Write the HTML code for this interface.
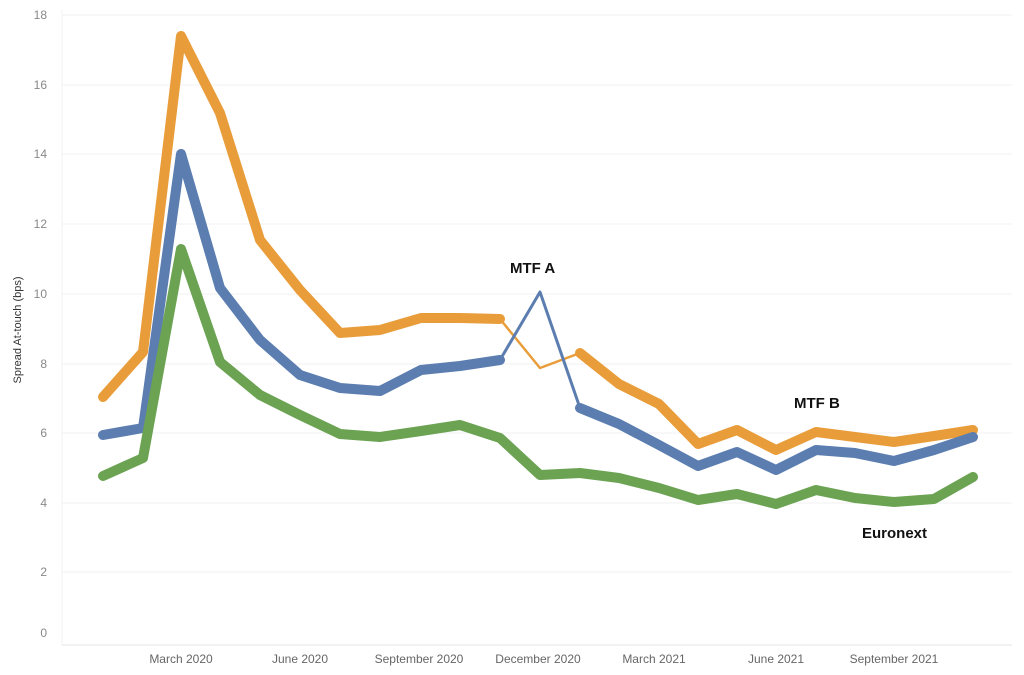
<!DOCTYPE html>
<html><head><meta charset="utf-8"><style>
html,body{margin:0;padding:0;background:#fff;}
svg{display:block;font-family:"Liberation Sans",sans-serif;}
</style></head><body>
<svg width="1024" height="675" viewBox="0 0 1024 675">
<g stroke="#f0f0f0" stroke-width="1">
<line x1="62" x2="1012" y1="15" y2="15"/><line x1="62" x2="1012" y1="85" y2="85"/>
<line x1="62" x2="1012" y1="154" y2="154"/><line x1="62" x2="1012" y1="224" y2="224"/>
<line x1="62" x2="1012" y1="294" y2="294"/><line x1="62" x2="1012" y1="364" y2="364"/>
<line x1="62" x2="1012" y1="433" y2="433"/><line x1="62" x2="1012" y1="503" y2="503"/>
<line x1="62" x2="1012" y1="572" y2="572"/>
</g>
<line x1="62" x2="1012" y1="645" y2="645" stroke="#e6e6e6"/>
<line x1="62" x2="62" y1="10" y2="645" stroke="#f0f0f0"/>
<g fill="#888" font-size="12" text-anchor="end">
<text x="47" y="19">18</text><text x="47" y="89">16</text><text x="47" y="158">14</text>
<text x="47" y="228">12</text><text x="47" y="298">10</text><text x="47" y="368">8</text>
<text x="47" y="437">6</text><text x="47" y="507">4</text><text x="47" y="576">2</text><text x="47" y="637">0</text>
</g>
<text transform="translate(21,330) rotate(-90)" font-size="11" fill="#333" text-anchor="middle">Spread At-touch (bps)</text>
<g fill="#666" font-size="12" text-anchor="middle">
<text x="181" y="663">March 2020</text><text x="300" y="663">June 2020</text>
<text x="419" y="663">September 2020</text><text x="538" y="663">December 2020</text>
<text x="654" y="663">March 2021</text><text x="776" y="663">June 2021</text>
<text x="894" y="663">September 2021</text>
</g>
<g fill="none" stroke-linejoin="round" stroke-linecap="round">
<polyline stroke="#E99D3A" stroke-width="10" points="103,397 143,352 181,36 220,113 260,240 300,290 340,333 380,330 421,318 460,318 500,319"/>
<polyline stroke="#E99D3A" stroke-width="2.5" points="500,319 540,368 580,353"/>
<polyline stroke="#E99D3A" stroke-width="10" points="580,353 619,384 659,404 698,444 737,430 776,450 816,432 855,437 894,442 934,436 973,430"/>
<polyline stroke="#5B7DB0" stroke-width="10" points="103,435 143,428 181,154 220,288 260,340 300,375 340,388 380,391 421,370 460,366 500,360"/>
<polyline stroke="#5B7DB0" stroke-width="3" points="500,360 540,292 580,408"/>
<polyline stroke="#5B7DB0" stroke-width="10" points="580,408 619,424 659,445 698,466 737,452 776,470 816,450 855,453 894,461 934,450 973,437"/>
<polyline stroke="#6BA353" stroke-width="10" points="103,476 143,458 181,249 220,362 260,395 300,415 340,434 380,437 421,431 460,425 500,438 540,475 580,473 619,478 659,488 698,500 737,494 776,504 816,490 855,498 894,502 934,499 973,477"/>
</g>
<g font-size="15" font-weight="bold" fill="#111">
<text x="510" y="273">MTF A</text>
<text x="794" y="408">MTF B</text>
<text x="862" y="538">Euronext</text>
</g>
</svg>
</body></html>
